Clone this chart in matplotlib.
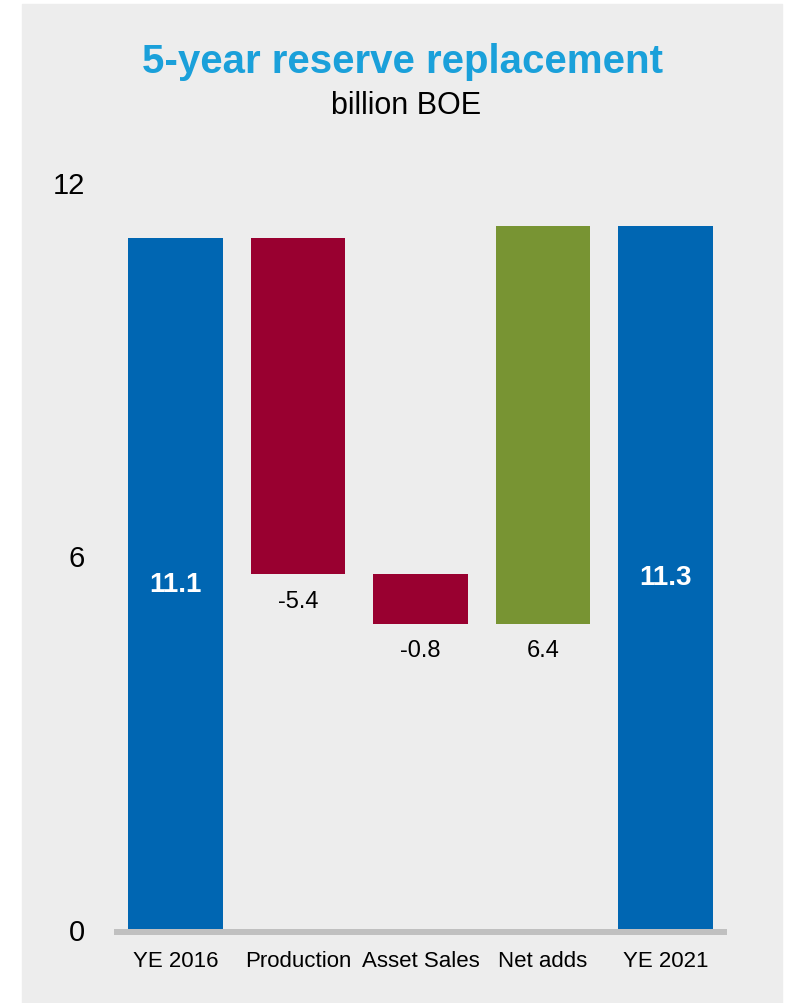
import matplotlib
matplotlib.use("Agg")
import matplotlib.pyplot as plt
from matplotlib.patches import Rectangle
from matplotlib.transforms import ScaledTranslation

plt.rcParams['font.family'] = ['Liberation Sans', 'DejaVu Sans']

categories = ["YE 2016", "Production", "Asset Sales", "Net adds", "YE 2021"]
changes = [11.1, -5.4, -0.8, 6.4, 11.3]
kinds = ["total", "delta", "delta", "delta", "total"]
labels = ["11.1", "-5.4", "-0.8", "6.4", "11.3"]
yticks = [0, 6, 12]

blue = "#0066B2"
red = "#990030"
green = "#789433"
panel = "#EDEDED"

fig = plt.figure(figsize=(7.89, 10.04), dpi=100)
fig.patch.set_facecolor("white")
fig.patches.append(Rectangle((22 / 789, 0), 760 / 789, 999 / 1004,
                             transform=fig.transFigure, color=panel, zorder=-10))

ax = fig.add_axes([114 / 789, 74 / 1004, 613 / 789, 747 / 1004])
ax.set_facecolor("none")
ax.set_zorder(1)

# waterfall: work out bottoms and heights
level = 0
for i, (val, kind) in enumerate(zip(changes, kinds)):
    if kind == "total":
        bottom, height = 0, val
        color = blue
        level = val
    else:
        if val < 0:
            bottom, height = level + val, -val
            color = red
        else:
            bottom, height = level, val
            color = green
        level = level + val
    ax.bar(i, height, bottom=bottom, width=0.77, color=color, zorder=2)
    if kind == "total":
        ax.text(i, height / 2, labels[i], ha="center", va="center",
                color="white", fontsize=20, fontweight="bold", zorder=3)
    else:
        ax.annotate(labels[i], (i, bottom), xytext=(0, -19), textcoords="offset points",
                    ha="center", va="center", fontsize=17, color="black")

ax.set_xlim(-0.5, 4.5)
ax.set_ylim(0, 12)
ax.set_yticks(yticks)
ax.set_yticklabels([str(t) for t in yticks], fontsize=21)
ax.set_xticks(range(len(categories)))
ax.set_xticklabels(categories, fontsize=16)
ax.tick_params(axis="y", length=0, pad=21)
ax.tick_params(axis="x", length=0, pad=15)
for s in ax.spines.values():
    s.set_visible(False)

# gray baseline just under the bars
off = ScaledTranslation(0, -3 / 100, fig.dpi_scale_trans)
ax.plot([0, 1], [0, 0], transform=ax.get_yaxis_transform() + off,
        color="#C0C0C0", linewidth=4.3, solid_capstyle="butt", clip_on=False, zorder=1)

fig.text(402 / 789, 1 - 62 / 1004, "5-year reserve replacement", ha="center", va="center",
         fontsize=29, fontweight="bold", color="#1AA0DA")
fig.text(406 / 789, 1 - 106 / 1004, "billion BOE", ha="center", va="center",
         fontsize=22, color="black")

fig.savefig("out.png", dpi=100)
